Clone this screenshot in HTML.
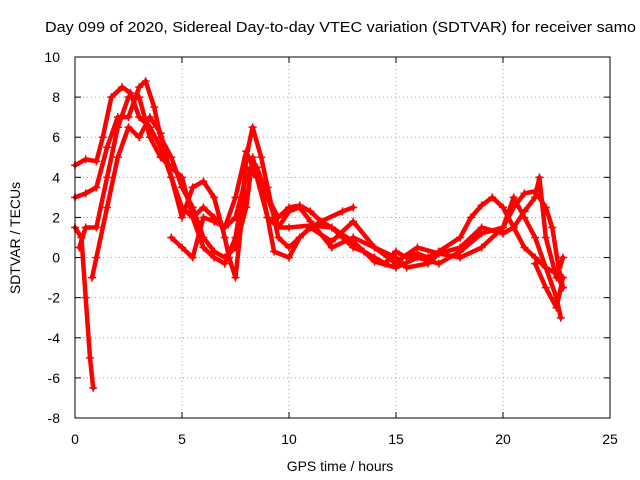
<!DOCTYPE html>
<html><head><meta charset="utf-8"><style>
body{margin:0;background:#fff}
svg{display:block;font-family:"Liberation Sans",sans-serif}
</style></head><body>
<svg id="chart" width="640" height="480">
<text x="45" y="32" text-anchor="start" font-size="15" textLength="591" lengthAdjust="spacingAndGlyphs">Day 099 of 2020, Sidereal Day-to-day VTEC variation (SDTVAR) for receiver samo</text>
<text x="340" y="471" text-anchor="middle" font-size="14">GPS time / hours</text>
<text transform="translate(20,238) rotate(-90)" text-anchor="middle" font-size="14">SDTVAR / TECUs</text>
<g id="grid"></g><g id="series"></g>
<rect x="75" y="57" width="535" height="361" fill="none" stroke="#000" stroke-width="1"/>
</svg>
<script>
const xTicks=[0,5,10,15,20,25];
const yTicks=[-8,-6,-4,-2,0,2,4,6,8,10];
const track1=[[0,4.6],[0.5,4.9],[1,4.8],[1.3,6],[1.7,8],[2.2,8.5],[2.6,8.2],[3,7],[3.5,6.5],[4,5.5],[4.5,4],[5,2.5],[5.5,2],[6,2.5],[6.5,2],[7,1.5],[7.5,2],[8,4],[8.5,4.5],[9,3],[9.5,2],[10,2.5],[10.5,2.6],[11,2.3],[11.5,1.8],[12,1.5],[12.5,1],[13,0.5],[13.5,0.3],[14,0],[14.5,-0.3],[15,0.3],[15.5,0],[16,0.2],[16.5,0],[17,0.3],[18,1],[18.5,2],[19,2.6],[19.5,3],[20,2.5],[20.5,1.5],[21,0.5],[21.5,0],[22,-0.5],[22.5,-2],[22.7,-3]];
const track2=[[0,3],[0.5,3.2],[1,3.5],[1.5,5.5],[2,7],[2.5,7],[3,8.5],[3.3,8.8],[3.7,7.5],[4,6],[4.5,5],[5,3.5],[5.5,2.5],[6,1],[6.5,0.3],[7,0],[7.5,0.5],[8,2.5],[8.3,5],[8.7,3.5],[9,2],[9.5,1.5],[10,1.5],[11,1.6],[12,1.5],[13,0.8],[14,-0.2],[15,-0.5],[16,0],[17,-0.3],[18,0.3],[19,1.2],[20,1.5],[20.5,2.5],[21,3.2],[21.5,3.3],[22,2.5],[22.3,1.5],[22.6,-0.5],[22.8,-1.5]];
const track3=[[0.8,-1],[1,0],[1.5,2.5],[2,5],[2.5,6.5],[3,6],[3.5,7],[4,6.2],[4.5,4],[5,2],[5.5,3.5],[6,3.8],[6.5,3],[7,1],[7.2,0],[7.5,-1],[7.8,2],[8,5],[8.3,6.5],[8.7,5],[9,3.5],[9.5,1],[10,0.5],[10.5,1],[11,1.5],[11.5,1.8],[12.5,2.3],[13,2.5]];
const track4=[[0.2,0.5],[0.5,1.5],[1,1.5],[1.5,4],[2,6.5],[2.5,8],[3,8],[3.5,6],[4,5],[4.5,4.5],[5,4],[5.5,2],[6,0.5],[6.5,0],[7,-0.3],[7.5,1],[7.8,3],[8,4.5],[8.5,4],[9,2],[9.3,0.3],[10,0],[10.5,1],[11,1.5],[12,0.8],[13,1.8],[14,0.5],[15,0],[15.5,-0.5],[16.5,-0.3],[17,0.2],[18,0.5],[19,1.5],[20,1.2],[20.5,1.5],[21,2.3],[21.5,3],[21.7,4],[22,1],[22.5,-1],[22.8,0]];
const track5=[[0,1.5],[0.3,1],[0.5,-2],[0.7,-5],[0.85,-6.5]];
const track6=[[4.5,1],[5,0.5],[5.5,0],[6,2],[6.5,1.8],[7,1.5],[7.5,3],[8,5.3],[8.5,4],[9,3],[9.5,1.5],[10,2.3],[10.5,2.5],[11,1.8],[12,0.5],[13,1],[14,0.5],[15,-0.3],[15.3,0],[16,0.5],[17,0.2],[18,0],[19,0.5],[20,1.5],[20.5,3],[21,2],[21.5,1],[22,-0.5],[22.5,-0.8],[22.8,-1.5]];
const track7=[[21.5,-0.3],[22,-1.5],[22.5,-2.5],[22.8,-1]];
const tracks=[track1,track2,track3,track4,track5,track6,track7];
const NS="http://www.w3.org/2000/svg";
const X=v=>75+v*(535/25), Y=v=>418-(v+8)*(361/18);
const grid=document.getElementById('grid'), ser=document.getElementById('series');
function mk(t,a,p){const e=document.createElementNS(NS,t);for(const k in a)e.setAttribute(k,a[k]);p.appendChild(e);return e;}
xTicks.forEach(t=>{
 if(t>0&&t<25){const l=mk('line',{x1:X(t),x2:X(t),y1:57,y2:418,stroke:'#a0a0a0','stroke-dasharray':'1,3'},grid);
 
 }
 const tk=mk('text',{x:X(t),y:444,'text-anchor':'middle','font-size':14},grid);tk.textContent=t;
 
 
 mk('line',{x1:X(t),x2:X(t),y1:418,y2:412,stroke:'#000'},grid);mk('line',{x1:X(t),x2:X(t),y1:57,y2:63,stroke:'#000'},grid);
});
yTicks.forEach(t=>{
 if(t>-8&&t<10){const l=mk('line',{x1:75,x2:610,y1:Y(t),y2:Y(t),stroke:'#a0a0a0','stroke-dasharray':'1,3'},grid);
 
 }
 const tk=mk('text',{x:60,y:Y(t)+5,'text-anchor':'end','font-size':14},grid);tk.textContent=t;
 
 
 mk('line',{x1:75,x2:81,y1:Y(t),y2:Y(t),stroke:'#000'},grid);mk('line',{x1:610,x2:604,y1:Y(t),y2:Y(t),stroke:'#000'},grid);
});
tracks.forEach((tr,i)=>{
 const pl=mk('polyline',{points:tr.map(p=>X(p[0])+','+Y(p[1])).join(' '),fill:'none',stroke:'#ff0000','stroke-width':4.5,'stroke-linejoin':'round','stroke-linecap':'round'},ser);
 
 
 tr.forEach(p=>{const x=X(p[0]),y=Y(p[1]);
  const m=mk('path',{d:`M${x-4},${y}H${x+4}M${x},${y-4}V${y+4}`,stroke:'#ff0000','stroke-width':1.5},ser);
  
  
 });
});
</script>
</body></html>
